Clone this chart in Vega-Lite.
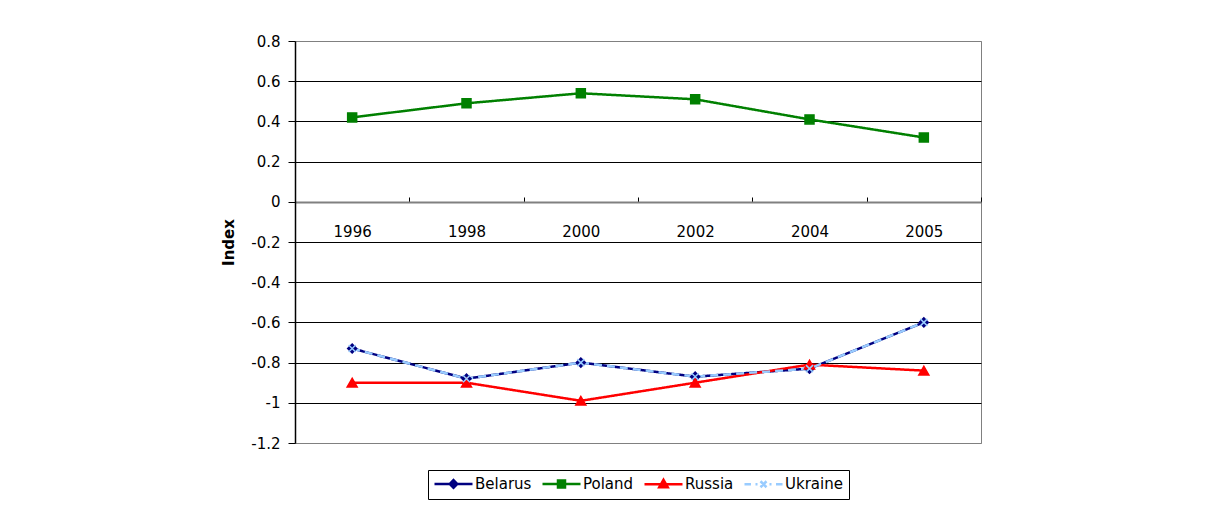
{
  "$schema": "https://vega.github.io/schema/vega-lite/v6.json",
  "width": 686,
  "height": 402,
  "autosize": {"type": "none"},
  "padding": {"left": 295, "top": 41, "right": 225, "bottom": 68},
  "background": "white",
  "config": {
    "font": "DejaVu Sans",
    "view": {"stroke": "#808080", "strokeWidth": 1}
  },
  "data": {
    "values": [
      {"year": "1996", "country": "Belarus", "value": -0.73},
      {"year": "1998", "country": "Belarus", "value": -0.88},
      {"year": "2000", "country": "Belarus", "value": -0.80},
      {"year": "2002", "country": "Belarus", "value": -0.87},
      {"year": "2004", "country": "Belarus", "value": -0.83},
      {"year": "2005", "country": "Belarus", "value": -0.60},
      {"year": "1996", "country": "Poland", "value": 0.42},
      {"year": "1998", "country": "Poland", "value": 0.49},
      {"year": "2000", "country": "Poland", "value": 0.54},
      {"year": "2002", "country": "Poland", "value": 0.51},
      {"year": "2004", "country": "Poland", "value": 0.41},
      {"year": "2005", "country": "Poland", "value": 0.32},
      {"year": "1996", "country": "Russia", "value": -0.90},
      {"year": "1998", "country": "Russia", "value": -0.90},
      {"year": "2000", "country": "Russia", "value": -0.99},
      {"year": "2002", "country": "Russia", "value": -0.90},
      {"year": "2004", "country": "Russia", "value": -0.81},
      {"year": "2005", "country": "Russia", "value": -0.84},
      {"year": "1996", "country": "Ukraine", "value": -0.73},
      {"year": "1998", "country": "Ukraine", "value": -0.88},
      {"year": "2000", "country": "Ukraine", "value": -0.80},
      {"year": "2002", "country": "Ukraine", "value": -0.87},
      {"year": "2004", "country": "Ukraine", "value": -0.83},
      {"year": "2005", "country": "Ukraine", "value": -0.60}
    ]
  },
  "encoding": {
    "x": {
      "field": "year",
      "type": "ordinal",
      "scale": {"type": "band", "paddingInner": 0, "paddingOuter": 0},
      "axis": {
        "title": null,
        "offset": -241,
        "labelAngle": 0,
        "labelFont": "DejaVu Sans",
        "labelFontSize": 15,
        "labelColor": "black",
        "labelPadding": 27,
        "domainColor": "#808080",
        "domainWidth": 2,
        "tickBand": "extent",
        "tickSize": -5,
        "tickColor": "black",
        "grid": false
      }
    },
    "y": {
      "field": "value",
      "type": "quantitative",
      "scale": {"domain": [-1.2, 0.8], "nice": false, "zero": false},
      "axis": {
        "title": "Index",
        "titleFont": "DejaVu Sans",
        "titleFontSize": 15,
        "titleFontWeight": "bold",
        "titleColor": "black",
        "titlePadding": 14,
        "values": [-1.2, -1, -0.8, -0.6, -0.4, -0.2, 0, 0.2, 0.4, 0.6, 0.8],
        "labelExpr": "replace(format(datum.value, '.1~f'), '\u2212', '-')",
        "labelFont": "DejaVu Sans",
        "labelFontSize": 15,
        "labelColor": "black",
        "labelPadding": 8,
        "tickSize": 7,
        "tickColor": "black",
        "domainColor": "black",
        "domainWidth": 1.5,
        "gridColor": {"condition": {"test": "datum.value === 0.8 || datum.value === 0 || datum.value === -1.2", "value": "#808080"}, "value": "black"},
        "gridWidth": 1,
        "gridOpacity": 1
      }
    }
  },
  "layer": [
    {
      "mark": {"type": "line", "strokeWidth": 2.5},
      "encoding": {
        "color": {
          "field": "country",
          "type": "nominal",
          "scale": {"domain": ["Belarus", "Poland", "Russia", "Ukraine"], "range": ["#000080", "#008000", "#FF0000", "#99CCFF"]},
          "legend": {
            "title": null,
            "orient": "none",
            "legendX": 133,
            "legendY": 429,
            "direction": "horizontal",
            "symbolType": "M-3.8,0L3.8,0",
            "symbolSize": 100,
            "symbolStrokeWidth": 2.5,
            "symbolOffset": 12,
            "labelOffset": 14,
            "labelFont": "DejaVu Sans",
            "labelFontSize": 15,
            "labelColor": "black",
            "columnPadding": 5,
            "padding": 6,
            "strokeColor": "black",
            "fillColor": "white",
            "encode": {
              "symbols": {
                "update": {
                  "shape": {"signal": "datum.value === 'Belarus' ? 'M-3.8,0L3.8,0M0,-0.75L0.75,0L0,0.75L-0.75,0Z' : datum.value === 'Poland' ? 'M-3.8,0L3.8,0M-0.7,-0.7L0.7,-0.7L0.7,0.7L-0.7,0.7Z' : datum.value === 'Russia' ? 'M-3.8,0L3.8,0M0,-0.9L0.85,0.6L-0.85,0.6Z' : 'M-3.8,0L-2.5,0M-1.6,0L-1.2,0M1.2,0L1.6,0M2.5,0L3.8,0M-0.6,-0.6L0.6,0.6M-0.6,0.6L0.6,-0.6'"},
                  "fill": {"signal": "datum.value === 'Ukraine' ? 'transparent' : scale('color', datum.value)"},
                  "stroke": {"signal": "scale('color', datum.value)"},
                  "strokeWidth": {"value": 2.5},
                  "strokeOpacity": {"value": 1},
                  "fillOpacity": {"value": 1},
                  "opacity": {"value": 1}
                }
              }
            }
          }
        },
        "strokeDash": {
          "condition": {"test": "datum.country === 'Ukraine'", "value": [8, 5]},
          "value": [1, 0]
        }
      }
    },
    {
      "mark": {"type": "point", "opacity": 1, "strokeWidth": 1.5},
      "encoding": {
        "fill": {
          "field": "country",
          "type": "nominal",
          "scale": {"domain": ["Belarus", "Poland", "Russia", "Ukraine"], "range": ["#000080", "#008000", "#FF0000", "transparent"]},
          "legend": null
        },
        "stroke": {
          "field": "country",
          "type": "nominal",
          "scale": {"domain": ["Belarus", "Poland", "Russia", "Ukraine"], "range": ["#000080", "#008000", "#FF0000", "#99CCFF"]},
          "legend": null
        },
        "shape": {
          "condition": [
            {"test": "datum.country === 'Belarus'", "value": "diamond"},
            {"test": "datum.country === 'Poland'", "value": "square"},
            {"test": "datum.country === 'Russia'", "value": "triangle-up"}
          ],
          "value": "M-1,-1L1,1M-1,1L1,-1"
        },
        "size": {
          "condition": [
            {"test": "datum.country === 'Belarus'", "value": 81},
            {"test": "datum.country === 'Poland'", "value": 81},
            {"test": "datum.country === 'Russia'", "value": 100}
          ],
          "value": 49
        }
      }
    }
  ]
}
